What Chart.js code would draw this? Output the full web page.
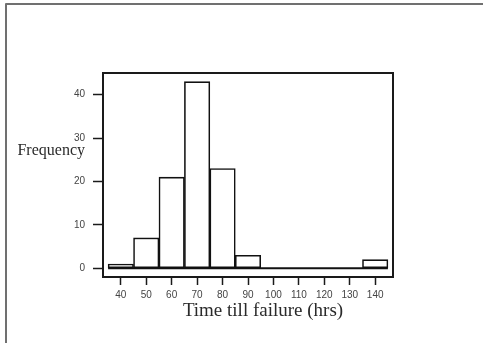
<!DOCTYPE html>
<html>
<head>
<meta charset="utf-8">
<script src="https://cdn.jsdelivr.net/npm/chart.js@4"></script>
<style>
  html, body { margin: 0; padding: 0; background: #fff; }
  #wrap { width: 483px; height: 343px; }
</style>
</head>
<body>
<div id="wrap"><canvas id="myChart" width="483" height="343"></canvas></div>
<script>
// bin centres (hrs) and counts
const binCentres = [40, 50, 60, 70, 80, 90, 100, 110, 120, 130, 140];
const counts = [1, 7, 21, 43, 23, 3, 0, 0, 0, 0, 2];
const binWidth = 10;
const xTicks = [40, 50, 60, 70, 80, 90, 100, 110, 120, 130, 140];
const yTicks = [0, 10, 20, 30, 40];

const framePlugin = {
  id: 'frame',
  beforeDraw(chart) {
    const ctx = chart.ctx;
    ctx.save();
    ctx.strokeStyle = '#707070';
    ctx.lineWidth = 2;
    ctx.lineJoin = 'round';
    ctx.strokeRect(6, 4, 1000, 1000);
    ctx.restore();
  },
  afterDatasetsDraw(chart) {
    // baseline under the empty bins
    const ctx = chart.ctx;
    const xs = chart.scales.x, ys = chart.scales.y;
    const y0 = ys.getPixelForValue(0);
    ctx.save();
    ctx.strokeStyle = '#111';
    ctx.lineWidth = 2;
    ctx.beginPath();
    ctx.moveTo(xs.getPixelForValue(binCentres[0] - binWidth / 2), y0);
    ctx.lineTo(xs.getPixelForValue(binCentres[binCentres.length - 1] + binWidth / 2), y0);
    ctx.stroke();
    ctx.restore();
  },
  afterDraw(chart) {
    const ctx = chart.ctx;
    const a = chart.chartArea;
    ctx.save();
    // box round the plot
    ctx.strokeStyle = '#1a1a1a';
    ctx.lineWidth = 2;
    ctx.strokeRect(a.left, a.top, a.right - a.left, a.bottom - a.top);
    // labels
    ctx.fillStyle = '#2a2a2a';
    ctx.font = '16px "Liberation Serif"';
    ctx.textAlign = 'right';
    ctx.textBaseline = 'alphabetic';
    ctx.fillText('Frequency', a.left - 18, a.top + 82);
    ctx.font = '19px "Liberation Serif"';
    ctx.textAlign = 'center';
    ctx.textBaseline = 'middle';
    ctx.fillText('Time till failure (hrs)', a.left + 160, a.bottom + 34);
    ctx.restore();
  }
};

const ctx = document.getElementById('myChart').getContext('2d');
const myChart = new Chart(ctx, {
  type: 'bar',
  data: {
    datasets: [
      {
        data: binCentres.map((x, i) => ({ x: x, y: counts[i] })),
        backgroundColor: '#ffffff',
        borderColor: '#111111',
        borderWidth: 1.6,
        borderSkipped: false,
        barPercentage: 1,
        categoryPercentage: 1,
      },
    ],
  },
  options: {
    responsive: false,
    animation: false,
    layout: {
      padding: { left: 0, right: 90, top: 73, bottom: 0 }
    },
    plugins: {
      legend: { display: false },
      tooltip: { enabled: false },
    },
    scales: {
      x: {
        type: 'linear',
        min: 33,
        max: 147,
        offset: false,
        afterFit(scale) { scale.height = 66; },
        afterBuildTicks(scale) { scale.ticks = xTicks.map(v => ({ value: v })); },
        border: { display: false },
        grid: {
          offset: false,
          drawOnChartArea: false,
          drawTicks: true,
          tickLength: 8,
          tickWidth: 1.5,
          tickColor: '#1a1a1a',
        },
        ticks: {
          padding: 4,
          color: '#444',
          font: { family: 'Liberation Sans', size: 10 },
          maxRotation: 0,
        },
      },
      y: {
        min: -2,
        max: 45,
        afterFit(scale) { scale.width = 103; },
        afterBuildTicks(scale) { scale.ticks = yTicks.map(v => ({ value: v })); },
        border: { display: false },
        grid: {
          drawOnChartArea: false,
          drawTicks: true,
          tickLength: 10,
          tickWidth: 1.5,
          tickColor: '#1a1a1a',
        },
        ticks: {
          padding: 8,
          color: '#444',
          font: { family: 'Liberation Sans', size: 10 },
        },
      },
    },
  },
  plugins: [framePlugin],
});
</script>
</body>
</html>
